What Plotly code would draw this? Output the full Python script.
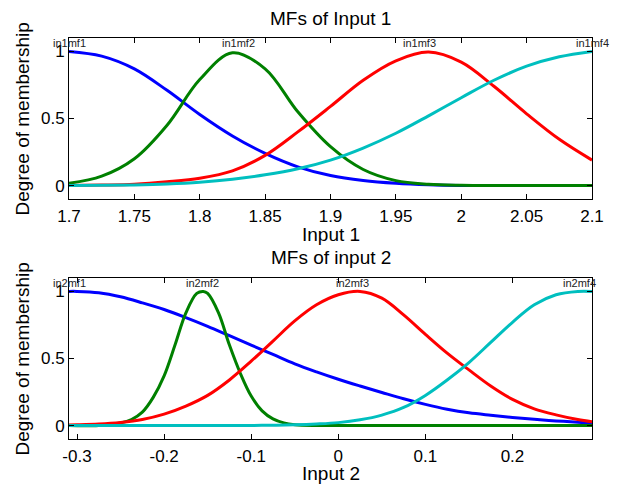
import plotly.graph_objects as go

# ---------------- data ----------------
# Input 1
x1 = [1.7, 1.725, 1.75, 1.775, 1.8, 1.825, 1.85, 1.875, 1.9, 1.925, 1.95,
      1.975, 2.0, 2.025, 2.05, 2.075, 2.1]
in1mf1 = [1.0, 0.965, 0.87, 0.71, 0.53, 0.37, 0.24, 0.14, 0.075, 0.038, 0.017,
          0.006, 0.001, 0.0, 0.0, 0.0, 0.0]
in1mf2 = [0.017, 0.07, 0.2, 0.45, 0.79, 0.99, 0.87, 0.55, 0.29, 0.12, 0.037,
          0.01, 0.002, 0.0, 0.0, 0.0, 0.0]
in1mf3 = [0.001, 0.004, 0.01, 0.028, 0.055, 0.11, 0.225, 0.40, 0.59, 0.785, 0.93,
          0.995, 0.92, 0.74, 0.535, 0.345, 0.19]
in1mf4 = [0.0, 0.002, 0.005, 0.012, 0.025, 0.047, 0.08, 0.125, 0.19, 0.28, 0.39,
          0.52, 0.655, 0.785, 0.89, 0.96, 1.0]
labels1 = ["in1mf1", "in1mf2", "in1mf3", "in1mf4"]
centers1 = [1.7, 1.83, 1.968, 2.1]

# Input 2
x2 = [-0.3092, -0.3, -0.275, -0.25, -0.225, -0.2, -0.175, -0.15, -0.125, -0.1,
      -0.075, -0.05, -0.025, 0.0, 0.025, 0.05, 0.075, 0.1, 0.125, 0.15, 0.175,
      0.2, 0.225, 0.25, 0.275, 0.2913]
in2mf1 = [1.0, 1.0, 0.99, 0.96, 0.915, 0.865, 0.805, 0.74, 0.67, 0.60, 0.53, 0.46,
          0.40, 0.345, 0.295, 0.247, 0.20, 0.158, 0.122, 0.095, 0.077, 0.061, 0.047,
          0.035, 0.025, 0.018]
in2mf3 = [0.005, 0.006, 0.011, 0.023, 0.045, 0.085, 0.145, 0.225, 0.34, 0.48,
          0.63, 0.78, 0.90, 0.975, 1.0, 0.95, 0.825, 0.68, 0.54, 0.415, 0.295,
          0.195, 0.125, 0.08, 0.045, 0.028]
in2mf4 = [0.0, 0.0, 0.0, 0.0, 0.0, 0.0, 0.0, 0.0, 0.0, 0.001, 0.003, 0.006,
          0.012, 0.022, 0.043, 0.078, 0.135, 0.225, 0.34, 0.47, 0.62, 0.77,
          0.90, 0.975, 1.0, 1.0]
x2_mf2 = [-0.3092, -0.275, -0.25, -0.2375, -0.225, -0.2125, -0.2, -0.1875,
          -0.175, -0.1625, -0.155, -0.15, -0.1375, -0.125, -0.1125, -0.1,
          -0.0875, -0.075, -0.0625, -0.05, -0.025, 0.0, 0.2913]
in2mf2 = [0.0, 0.001, 0.02, 0.045, 0.10, 0.21, 0.37, 0.60, 0.84, 0.985, 1.0,
          0.985, 0.84, 0.60, 0.39, 0.22, 0.11, 0.05, 0.02, 0.007, 0.001, 0.0, 0.0]
labels2 = ["in2mf1", "in2mf2", "in2mf3", "in2mf4"]
centers2 = [-0.3092, -0.156, 0.016, 0.277]

colors = ["#0000FF", "#008000", "#FF0000", "#00BFBF"]

# ---------------- figure ----------------
fig = go.Figure()

top_series = [(x1, in1mf1), (x1, in1mf2), (x1, in1mf3), (x1, in1mf4)]
bot_series = [(x2, in2mf1), (x2_mf2, in2mf2), (x2, in2mf3), (x2, in2mf4)]

for (xs, ys), c in zip(top_series, colors):
    fig.add_trace(go.Scatter(x=xs, y=ys, mode="lines", xaxis="x", yaxis="y",
                             line=dict(color=c, width=3, shape="spline", smoothing=1.0),
                             showlegend=False, hoverinfo="skip"))
for (xs, ys), c in zip(bot_series, colors):
    fig.add_trace(go.Scatter(x=xs, y=ys, mode="lines", xaxis="x2", yaxis="y2",
                             line=dict(color=c, width=3, shape="spline", smoothing=1.0),
                             showlegend=False, hoverinfo="skip"))

FONT = "Liberation Sans, Arial, sans-serif"
ax_common = dict(showline=True, linecolor="black", linewidth=1, mirror="allticks",
                 ticks="inside", ticklen=5, tickcolor="black", showgrid=False,
                 zeroline=False, automargin=False,
                 tickfont=dict(family=FONT, size=17, color="black"))

# the page body adds an 8px offset, so the figure is 8px smaller and margins shifted
fig.update_layout(
    width=612, height=479,
    margin=dict(l=61, r=28, t=30, b=48),
    paper_bgcolor="white", plot_bgcolor="white",
    xaxis=dict(domain=[0, 1], anchor="y", range=[1.7, 2.1],
               tickvals=[1.7, 1.75, 1.8, 1.85, 1.9, 1.95, 2.0, 2.05, 2.1],
               ticktext=["1.7", "1.75", "1.8", "1.85", "1.9", "1.95", "2", "2.05", "2.1"],
               ticklabelstandoff=2, **ax_common),
    yaxis=dict(domain=[0.5985, 1.0], anchor="x", range=[-0.1, 1.1],
               tickvals=[0, 0.5, 1], ticktext=["0", "0.5", "1"], **ax_common),
    xaxis2=dict(domain=[0, 1], anchor="y2", range=[-0.3092, 0.2913],
                tickvals=[-0.3, -0.2, -0.1, 0, 0.1, 0.2],
                ticktext=["-0.3", "-0.2", "-0.1", "0", "0.1", "0.2"],
                ticklabelstandoff=2, **ax_common),
    yaxis2=dict(domain=[0.0, 0.4015], anchor="x2", range=[-0.1, 1.1],
                tickvals=[0, 0.5, 1], ticktext=["0", "0.5", "1"], **ax_common),
)

ann = []
txt_font = dict(family=FONT, size=19, color="black")
ann.append(dict(text="MFs of Input 1", x=0.5, y=1.0474, xref="paper", yref="paper",
                showarrow=False, xanchor="center", yanchor="middle", font=txt_font))
ann.append(dict(text="Input 1", x=0.5, y=0.511, xref="paper", yref="paper",
                showarrow=False, xanchor="center", yanchor="middle", font=txt_font))
ann.append(dict(text="MFs of input 2", x=0.5, y=0.4526, xref="paper", yref="paper",
                showarrow=False, xanchor="center", yanchor="middle", font=txt_font))
ann.append(dict(text="Input 2", x=0.5, y=-0.087, xref="paper", yref="paper",
                showarrow=False, xanchor="center", yanchor="middle", font=txt_font))
ann.append(dict(text="Degree of membership", x=-0.088, y=0.7993, xref="paper", yref="paper",
                showarrow=False, xanchor="center", yanchor="middle", textangle=-90,
                font=txt_font))
ann.append(dict(text="Degree of membership", x=-0.088, y=0.2007, xref="paper", yref="paper",
                showarrow=False, xanchor="center", yanchor="middle", textangle=-90,
                font=txt_font))

lab_font = dict(family=FONT, size=11, color="#222222")
for t, cx in zip(labels1, centers1):
    ann.append(dict(text=t, x=cx, y=1.0, xref="x", yref="y", showarrow=False,
                    xanchor="center", yanchor="bottom", font=lab_font))
for t, cx in zip(labels2, centers2):
    ann.append(dict(text=t, x=cx, y=1.0, xref="x2", yref="y2", showarrow=False,
                    xanchor="center", yanchor="bottom", font=lab_font))

fig.update_layout(annotations=ann)

fig.write_html("out.html")
